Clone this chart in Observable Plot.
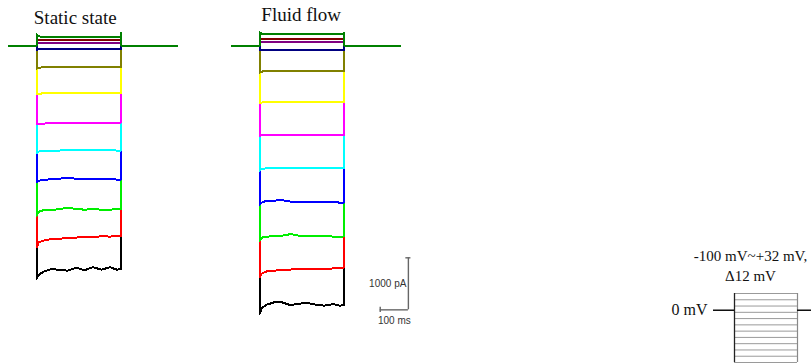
<!DOCTYPE html>
<html>
<head>
<meta charset="utf-8">
<script src="https://cdn.jsdelivr.net/npm/d3@7"></script>
<script src="https://cdn.jsdelivr.net/npm/@observablehq/plot@0.6"></script>
<style>
html, body { margin: 0; padding: 0; background: #fff; }
#chart { position: relative; width: 811px; height: 364px; overflow: hidden; background: #fff; }
#chart svg { position: absolute; overflow: visible; background: transparent; }
</style>
</head>
<body>
<div id="chart"></div>
<script>
// ---- data ----
const sweepVoltages = [-100, -88, -76, -64, -52, -40, -28, -16, -4, 8, 20, 32]; // mV
const sweepColors = ["#000000", "#ff0000", "#00ee00", "#0000ff", "#00ffff", "#ff00ff",
                     "#ffff00", "#808000", "#000080", "#800080", "#800000", "#008000"];
const stepTimes = [0, 8, 25, 50, 80, 110, 140, 170, 200, 230, 260, 285, 300]; // ms
const preStart = -100, postEnd = 500; // ms

// currents (pA) at stepTimes, one row per sweep (-100 mV first)
const staticCurrents = [
  [-4480, -4404, -4346, -4298, -4308, -4327, -4270, -4317, -4260, -4308, -4260, -4308, -4288],
  [-3879, -3783, -3750, -3721, -3712, -3702, -3692, -3673, -3683, -3664, -3673, -3654, -3654],
  [-3269, -3192, -3163, -3163, -3144, -3115, -3144, -3154, -3144, -3154, -3154, -3144, -3135],
  [-2625, -2596, -2587, -2567, -2558, -2548, -2558, -2558, -2567, -2567, -2567, -2577, -2577],
  [-2067, -2038, -2029, -2019, -2019, -2010, -2010, -2000, -2000, -2000, -2010, -2019, -2019],
  [-1510, -1500, -1500, -1495, -1495, -1490, -1490, -1490, -1485, -1485, -1485, -1481, -1481],
  [-935, -925, -920, -918, -917, -917, -917, -915, -915, -915, -915, -915, -915],
  [-445, -425, -420, -418, -417, -417, -417, -417, -417, -417, -417, -417, -417],
  [-80, -71, -71, -71, -71, -71, -71, -71, -71, -71, -71, -71, -71],
  [48, 48, 48, 48, 48, 48, 48, 48, 48, 48, 48, 48, 48],
  [102, 102, 102, 102, 102, 102, 102, 102, 102, 102, 102, 102, 102],
  [215, 175, 167, 167, 167, 167, 167, 167, 167, 167, 167, 167, 167]
];
const fluidCurrents = [
  [-5160, -5040, -4981, -4937, -4937, -4990, -4960, -4950, -4980, -5000, -4970, -5000, -4981],
  [-4455, -4380, -4340, -4327, -4315, -4305, -4300, -4295, -4295, -4290, -4285, -4275, -4265],
  [-3750, -3692, -3673, -3664, -3654, -3625, -3654, -3654, -3664, -3654, -3673, -3683, -3664],
  [-3058, -3019, -2981, -2981, -2971, -3000, -3010, -3000, -3010, -3000, -3010, -3019, -3019],
  [-2404, -2370, -2360, -2355, -2350, -2345, -2345, -2350, -2345, -2350, -2355, -2355, -2360],
  [-1740, -1720, -1717, -1715, -1712, -1712, -1715, -1712, -1712, -1715, -1712, -1712, -1717],
  [-1110, -1095, -1090, -1090, -1090, -1090, -1090, -1090, -1090, -1090, -1090, -1090, -1090],
  [-520, -500, -495, -494, -494, -494, -494, -494, -494, -494, -494, -494, -494],
  [-90, -81, -81, -81, -81, -81, -81, -81, -81, -81, -81, -81, -81],
  [64, 64, 64, 64, 64, 64, 64, 64, 64, 64, 64, 64, 64],
  [131, 131, 131, 131, 131, 131, 131, 131, 131, 131, 131, 131, 131],
  [255, 222, 215, 215, 215, 215, 215, 215, 215, 215, 215, 215, 215]
];
// tail transient peak at step offset (pA), 0 = none
const staticTails = [0, 0, 0, 0, 0, 0, 0, 0, 0, 0, 0, 250];
const fluidTails  = [0, 0, 0, 0, 0, 0, 0, 0, 0, 0, 0, 250];

const panelTitles = ["Static state", "Fluid flow"];
const scaleBarTime = 100;      // ms
const scaleBarCurrent = 1000;  // pA
const scaleBarLabels = ["1000 pA", "100 ms"];
const protocolLabel = "-100 mV~+32 mV,\n\u039412 mV";
const holdingLabel = "0 mV";
const holdingVoltage = 0;

// ---- build ----
function buildTraces(currents, tails) {
  const rows = [];
  currents.forEach((vals, i) => {
    const pts = [[preStart, 0], [0, 0]];
    stepTimes.forEach((t, j) => pts.push([t, vals[j]]));
    const tEnd = stepTimes[stepTimes.length - 1];
    if (tails[i]) pts.push([tEnd, tails[i]]);
    pts.push([tEnd, 0], [postEnd, 0]);
    pts.forEach(([t, c]) => rows.push({sweep: i, time: t, current: c, color: sweepColors[i]}));
  });
  return rows;
}

const stepMid = (stepTimes[0] + stepTimes[stepTimes.length - 1]) / 2;
const serif = "Liberation Serif, Times New Roman, serif";
const sans = "Liberation Sans, Arial, sans-serif";

function panel(rows, title, opts) {
  const marks = [
    Plot.line(rows, {x: "time", y: "current", z: "sweep", stroke: "color", strokeWidth: 2,
      shapeRendering: "crispEdges"}),
    Plot.text([title], {x: () => stepMid, frameAnchor: "top", lineAnchor: "bottom",
      dx: opts.titleDx, dy: opts.titleDy, fontSize: 19, fontFamily: serif, fill: "#111"})
  ];
  if (opts.scaleBar) {
    const t1 = opts.sbTime, c0 = opts.sbCurrent;
    const t0 = t1 - scaleBarTime, c1 = c0 + scaleBarCurrent;
    const sbStyle = {stroke: "#666", strokeWidth: 1.4};
    marks.push(
      Plot.ruleX([t1], {y1: c0, y2: c1, ...sbStyle}),
      Plot.ruleY([c0], {x1: t0, x2: t1, ...sbStyle}),
      Plot.ruleY([c1], {x1: t1 - 9, x2: t1 + 9, ...sbStyle}),
      Plot.ruleX([t0], {y1: c0 - 50, y2: c0 + 50, ...sbStyle}),
      Plot.text([scaleBarLabels[0]], {x: () => t1, y: () => (c0 + c1) / 2, dx: -2, textAnchor: "end",
        fontSize: 10, fontFamily: sans, fill: "#333"}),
      Plot.text([scaleBarLabels[1]], {x: () => (t0 + t1) / 2, y: () => c0, dy: 11,
        fontSize: 10, fontFamily: sans, fill: "#333"})
    );
  }
  const svg = Plot.plot({
    width: opts.width, height: 326,
    marginLeft: 8, marginRight: opts.width - 177, marginTop: 19, marginBottom: 0,
    x: {domain: [preStart, postEnd], axis: null},
    y: {domain: [-5400, 500], axis: null},
    color: {type: "identity"},
    style: {background: "transparent", overflow: "visible"},
    marks
  });
  svg.style.left = opts.left + "px";
  svg.style.top = "0px";
  return svg;
}

const chart = document.getElementById("chart");
chart.appendChild(panel(buildTraces(staticCurrents, staticTails), panelTitles[0],
  {width: 200, left: 0, titleDx: -3.7, titleDy: 4}));
chart.appendChild(panel(buildTraces(fluidCurrents, fluidTails), panelTitles[1],
  {width: 220, left: 223, titleDx: -0.7, titleDy: 1.7, scaleBar: true, sbTime: 528, sbCurrent: -5080}));

// voltage protocol (schematic)
const vTop = d3.max(sweepVoltages), vBot = d3.min(sweepVoltages);
const tStepEnd = stepTimes[stepTimes.length - 1];
const protocol = Plot.plot({
  width: 171, height: 134,
  marginLeft: 73, marginRight: 14, marginTop: 63, marginBottom: 2,
  x: {domain: [preStart, tStepEnd], axis: null},
  y: {domain: [vBot, vTop], axis: null},
  style: {background: "transparent", overflow: "visible"},
  marks: [
    Plot.ruleY(sweepVoltages, {x1: 0, x2: tStepEnd, stroke: "#9a9a9a", strokeWidth: 1}),
    Plot.ruleX([tStepEnd], {y1: vBot, y2: vTop, stroke: "#888", strokeWidth: 1.2}),
    Plot.ruleX([0], {y1: vBot, y2: vTop, stroke: "#222", strokeWidth: 1.3}),
    Plot.ruleY([holdingVoltage], {x1: preStart, x2: 0, stroke: "#111", strokeWidth: 1.5}),
    Plot.ruleY([holdingVoltage], {x1: tStepEnd, x2: tStepEnd + 100, stroke: "#111", strokeWidth: 1.5}),
    Plot.text([holdingLabel], {x: () => preStart, y: () => holdingVoltage, dx: -6, textAnchor: "end",
      fontSize: 16, fontFamily: serif, fill: "#111"}),
    Plot.text([protocolLabel], {x: () => stepMid, y: () => vTop, dx: -15.5, dy: -13,
      lineAnchor: "bottom", lineHeight: 1.333, fontSize: 15, fontFamily: serif, fill: "#111"})
  ]
});
protocol.style.left = "640px";
protocol.style.top = "230px";
chart.appendChild(protocol);
</script>
</body>
</html>
